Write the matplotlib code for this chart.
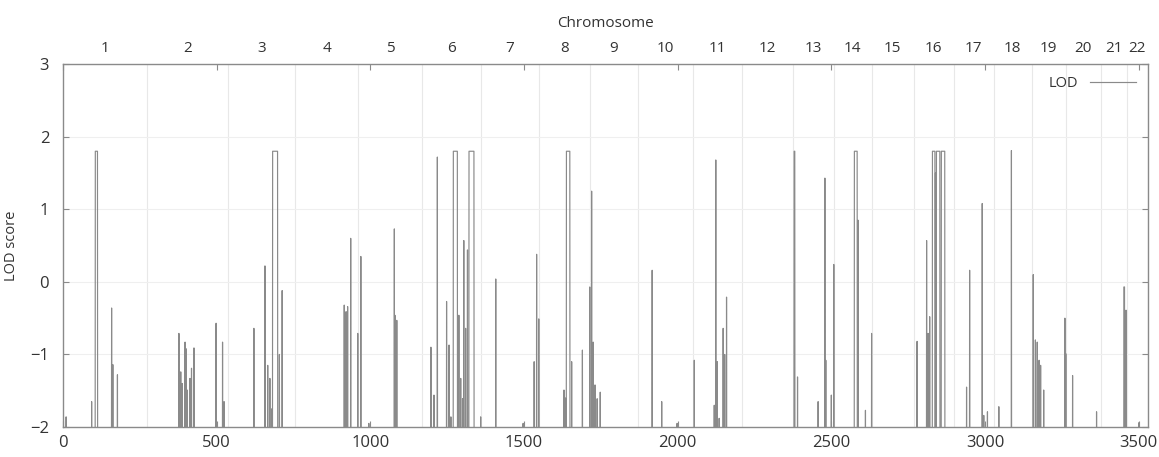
import matplotlib
matplotlib.use("Agg")
import matplotlib.pyplot as plt
import numpy as np

plt.rcParams['font.family'] = ['Open Sans', 'DejaVu Sans']

# chromosome end positions (cumulative cM) and names
chrom_ends = [273, 537, 755, 960, 1168, 1360, 1548, 1714, 1870, 2049, 2209,
              2375, 2508, 2632, 2768, 2898, 3029, 3152, 3263, 3377, 3461, 3530]
chrom_names = [str(i) for i in range(1, 23)]

# LOD peaks: start cM, end cM (flat top), LOD value
peak_start = [0, 10, 93, 105, 158, 162, 177, 377, 383, 388, 397, 400, 404, 413, 418, 426,
              498, 519, 524, 621, 657, 666, 673, 679, 682, 704, 713, 915, 921, 926, 936,
              959, 969, 995, 1078, 1080, 1086, 1197, 1207, 1218, 1248, 1256, 1262, 1270,
              1288, 1294, 1300, 1304, 1310, 1316, 1321, 1359, 1408, 1497, 1533, 1541, 1548,
              1630, 1635, 1638, 1655, 1690, 1714, 1720, 1725, 1731, 1738, 1748, 1917, 1948,
              1998, 2054, 2119, 2124, 2129, 2135, 2148, 2153, 2159, 2379, 2390, 2457, 2479,
              2482, 2500, 2508, 2575, 2587, 2611, 2631, 2779, 2810, 2815, 2820, 2829, 2839,
              2842, 2858, 2940, 2950, 2991, 2996, 3008, 3045, 3086, 3157, 3164, 3170, 3176,
              3181, 3191, 3260, 3263, 3285, 3363, 3452, 3459, 3501]
peak_end = [0, 10, 93, 112, 158, 162, 177, 377, 383, 388, 397, 400, 404, 413, 418, 426,
            498, 519, 524, 621, 657, 666, 673, 679, 698, 704, 713, 915, 921, 926, 936,
            959, 969, 995, 1078, 1080, 1086, 1197, 1207, 1218, 1248, 1256, 1262, 1283,
            1288, 1294, 1300, 1304, 1310, 1316, 1337, 1359, 1408, 1497, 1533, 1541, 1548,
            1630, 1635, 1649, 1655, 1690, 1714, 1720, 1725, 1731, 1738, 1748, 1917, 1948,
            1998, 2054, 2119, 2124, 2129, 2135, 2148, 2153, 2159, 2381, 2390, 2457, 2479,
            2482, 2500, 2508, 2584, 2587, 2611, 2631, 2779, 2810, 2815, 2820, 2837, 2839,
            2853, 2869, 2940, 2950, 2991, 2996, 3008, 3045, 3086, 3157, 3164, 3170, 3176,
            3181, 3191, 3260, 3263, 3285, 3363, 3454, 3459, 3501]
peak_lod = [-0.60, -1.86, -1.65, 1.80, -0.36, -1.14, -1.28, -0.71, -1.24, -1.40, -0.83, -0.92,
            -1.49, -1.33, -1.19, -0.91, -0.57, -0.83, -1.65, -0.64, 0.22, -1.15, -1.33, -1.75,
            1.80, -1.00, -0.12, -0.32, -0.41, -0.34, 0.60, -0.71, 0.35, -1.95, 0.73, -0.46,
            -0.53, -0.90, -1.56, 1.72, -0.27, -0.87, -1.86, 1.80, -0.46, -1.33, -1.61, 0.57,
            -0.64, 0.44, 1.80, -1.86, 0.04, -1.95, -1.10, 0.38, -0.51, -1.49, -1.60, 1.80,
            -1.10, -0.94, -0.07, 1.25, -0.83, -1.42, -1.61, -1.52, 0.16, -1.65, -1.95, -1.08,
            -1.70, 1.68, -1.10, -1.88, -0.64, -1.00, -0.21, 1.80, -1.31, -1.65, 1.43, -1.08,
            -1.56, 0.24, 1.80, 0.85, -1.77, -0.71, -0.82, 0.57, -0.71, -0.48, 1.80, 1.50,
            1.80, 1.80, -1.45, 0.16, 1.08, -1.84, -1.79, -1.72, 1.81, 0.10, -0.80, -0.83,
            -1.08, -1.15, -1.49, -0.50, -0.99, -1.29, -1.79, -0.07, -0.39, -1.94]

floor = -3.0  # LOD below the visible range between peaks
xs, ys = [], []
for s, e, h in sorted(zip(peak_start, peak_end, peak_lod)):
    xs += [s - 0.6, s, e, e + 0.6]
    ys += [floor, h, h, floor]

fig = plt.figure(figsize=(11.59, 4.57), dpi=100)
ax = fig.add_axes([0.0544, 0.0656, 0.936, 0.794])

ax.plot(xs, ys, color='#8a8a8a', lw=0.85, label='LOD')

ax.set_xlim(0, 3530)
ax.set_ylim(-2, 3)
ax.set_xticks(np.arange(0, 3501, 500))
ax.set_yticks(np.arange(-2, 4, 1))
ax.set_xticks(chrom_ends, minor=True)

ax.grid(which='major', axis='y', color='#efefef', lw=0.8)
ax.grid(which='minor', axis='x', color='#e8e8e8', lw=0.8)
ax.set_axisbelow(True)

for sp in ax.spines.values():
    sp.set_color('#8a8a8a')
    sp.set_linewidth(1.0)

ax.tick_params(which='major', direction='in', length=4, color='#8a8a8a',
               top=True, right=True, labelsize=12, labelcolor='#333333', pad=6)
ax.tick_params(axis='y', pad=10)
ax.tick_params(which='minor', length=0)
ax.set_ylabel('LOD score', fontsize=10.5, color='#333333', labelpad=8)

centers = [(a + b) / 2 for a, b in zip([0] + chrom_ends[:-1], chrom_ends)]
top = ax.secondary_xaxis('top')
top.set_xticks(centers)
top.set_xticklabels(chrom_names)
top.tick_params(length=0, labelsize=11, labelcolor='#333333', pad=6)
top.set_xlabel('Chromosome', fontsize=11, color='#333333', labelpad=10)
top.spines['top'].set_visible(False)

ax.legend(loc='upper right', frameon=False, markerfirst=False, handlelength=3.2,
          fontsize=10.5, borderaxespad=0.4, labelcolor='#333333')

fig.savefig('out.png', dpi=100)
